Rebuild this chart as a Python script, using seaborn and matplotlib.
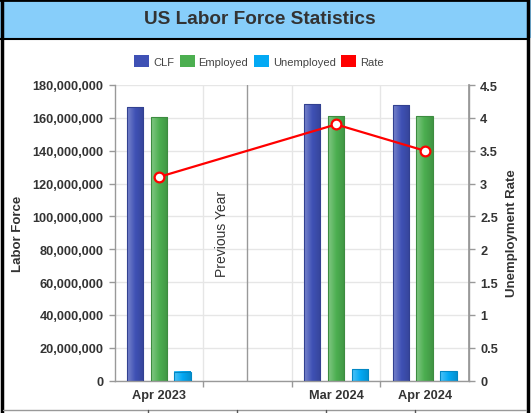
import numpy as np
import pandas as pd
import matplotlib
matplotlib.use("Agg")
import matplotlib.pyplot as plt
import seaborn as sns
from matplotlib.colors import LinearSegmentedColormap, to_rgb
from matplotlib.patches import Rectangle, Patch
from matplotlib.lines import Line2D
from matplotlib.ticker import FuncFormatter, MultipleLocator

# data
months = ["Apr 2023", "Mar 2024", "Apr 2024"]
slots = ["Apr 2023", "", "Mar 2024", "Apr 2024"]   # empty slot = "Previous Year" divider
clf = [166.4e6, 168.2e6, 167.6e6]
employed = [160.7e6, 161.3e6, 161.3e6]
unemployed = [5.6e6, 6.9e6, 6.0e6]
rate = [3.1, 3.9, 3.5]

series = ["CLF", "Employed", "Unemployed"]
colors = {"CLF": "#3F51B5", "Employed": "#4CAF50", "Unemployed": "#03A9F4"}
rate_color = "#FF0000"

df = pd.DataFrame({
    "month": months * 3,
    "series": ["CLF"] * 3 + ["Employed"] * 3 + ["Unemployed"] * 3,
    "value": clf + employed + unemployed,
})

sns.set_theme(style="white")
plt.rcParams["font.family"] = ["Liberation Sans", "DejaVu Sans"]
txt = "#333333"
W, H = 531, 414

fig = plt.figure(figsize=(W / 100, H / 100), dpi=100)
fig.patch.set_facecolor("white")

# title band + frame
fig.add_artist(Rectangle((0, 1 - 39 / H), 1, 39 / H, transform=fig.transFigure,
                         facecolor="#87CEFA", edgecolor="none", zorder=0))
fig.add_artist(Line2D([0, 528 / W], [1 - 39.5 / H] * 2, transform=fig.transFigure, color="black", lw=1.5))
fig.add_artist(Line2D([1.5 / W, 1.5 / W], [0, 1], transform=fig.transFigure, color="black", lw=2.5))
fig.add_artist(Line2D([0, 528 / W], [1 - 0.8 / H] * 2, transform=fig.transFigure, color="black", lw=2))
fig.add_artist(Line2D([527.5 / W, 527.5 / W], [0, 1], transform=fig.transFigure, color="black", lw=2.5))
# top edge of the table cut off below the chart
fig.add_artist(Line2D([3 / W, 526 / W], [3 / H] * 2, transform=fig.transFigure, color="#999999", lw=1))
for xp in [148, 237, 326, 415]:
    fig.add_artist(Line2D([xp / W] * 2, [0, 3 / H], transform=fig.transFigure, color="#555555", lw=1))

fig.text(259.5 / W, 1 - 20 / H, "US Labor Force Statistics", ha="center", va="center",
         fontsize=13.7, fontweight="bold", color=txt)

ax = fig.add_axes([114.5 / W, 32.3 / H, 354.5 / W, 295.7 / H])
sns.barplot(data=df, x="month", y="value", hue="series", order=slots, hue_order=series,
            palette=colors, saturation=1, errorbar=None, width=0.81, gap=0.31,
            legend=False, ax=ax)

# gradient fill for each bar, lighter on the left
for bar in list(ax.patches):
    x0, y0 = bar.get_x(), bar.get_y()
    w, h = bar.get_width(), bar.get_height()
    if h == 0 or np.isnan(h):
        continue
    base = np.array(to_rgb(bar.get_facecolor()))
    light = base + (1 - base) * 0.3
    dark = base * 0.85
    cmap = LinearSegmentedColormap.from_list("g", [light, base, dark])
    ax.imshow(np.linspace(0, 1, 64).reshape(1, -1), extent=[x0, x0 + w, y0, y0 + h],
              aspect="auto", cmap=cmap, zorder=2, interpolation="bilinear")
    bar.set_facecolor("none")
    bar.set_edgecolor(base * 0.8)
    bar.set_linewidth(0.8)
    bar.set_zorder(3)

ax.set_xlim(-0.5, 3.5)
ax.set_ylim(0, 180e6)
ax.yaxis.set_major_locator(MultipleLocator(20e6))
ax.yaxis.set_major_formatter(FuncFormatter(lambda v, p: f"{v:,.0f}"))
ax.set_xticks(range(len(slots)))
ax.set_xticklabels(slots)
ax.set_xticks([0.5, 1.5, 2.5], minor=True)
ax.grid(axis="y", color="#e6e6e6", lw=1)
ax.grid(axis="x", which="minor", color="#e6e6e6", lw=1)
ax.set_axisbelow(True)
ax.axvline(1, color="#999999", lw=1, zorder=1)
ax.text(0.71, 90e6, "Previous Year", rotation=90, ha="center", va="center",
        fontsize=10, color=txt)

ax.set_xlabel("")
ax.set_ylabel("")
ax.tick_params(axis="x", which="major", length=0, pad=6, labelsize=9.2, labelcolor=txt)
ax.tick_params(axis="x", which="minor", length=4, color="#999999", width=1, bottom=True)
ax.tick_params(axis="y", length=4, color="#999999", width=1, pad=4, labelsize=9.2,
               labelcolor=txt, left=True)
for lab in ax.get_xticklabels() + ax.get_yticklabels():
    lab.set_fontweight("bold")
for s in ["left", "bottom", "right"]:
    ax.spines[s].set_color("#999999")
    ax.spines[s].set_linewidth(1)
ax.spines["top"].set_visible(False)

ax2 = ax.twinx()
rate_x = [slots.index(m) for m in months]
sns.lineplot(x=rate_x, y=rate, ax=ax2, color=rate_color, lw=1.6, marker="o", markersize=7,
             markerfacecolor="white", markeredgecolor=rate_color, markeredgewidth=1.6,
             legend=False, zorder=5)
ax2.set_xlim(-0.5, 3.5)
ax2.set_ylim(0, 4.5)
ax2.yaxis.set_major_locator(MultipleLocator(0.5))
ax2.yaxis.set_major_formatter(FuncFormatter(lambda v, p: f"{v:g}"))
ax2.tick_params(axis="y", length=4, color="#999999", width=1, pad=4, labelsize=9.2,
                labelcolor=txt, right=True)
for lab in ax2.get_yticklabels():
    lab.set_fontweight("bold")
ax2.grid(False)
ax2.set_ylabel("")
for s in ["left", "top", "bottom"]:
    ax2.spines[s].set_visible(False)
ax2.spines["right"].set_color("#999999")

fig.text(18 / W, 1 - 234 / H, "Labor Force", rotation=90, ha="center", va="center",
         fontsize=9.5, fontweight="bold", color=txt)
fig.text(512.5 / W, 1 - 233 / H, "Unemployment Rate", rotation=90, ha="center", va="center",
         fontsize=9.5, fontweight="bold", color=txt)

handles = [Patch(facecolor=colors[s], edgecolor="none") for s in series]
handles.append(Patch(facecolor=rate_color, edgecolor="none"))
fig.legend(handles, series + ["Rate"], loc="center", bbox_to_anchor=(259 / W, 1 - 62 / H),
           ncol=4, frameon=False, fontsize=8, handlelength=1.35, handleheight=1.25,
           handletextpad=0.35, columnspacing=0.5, labelcolor="#444444")

fig.savefig("out.png", dpi=100)
